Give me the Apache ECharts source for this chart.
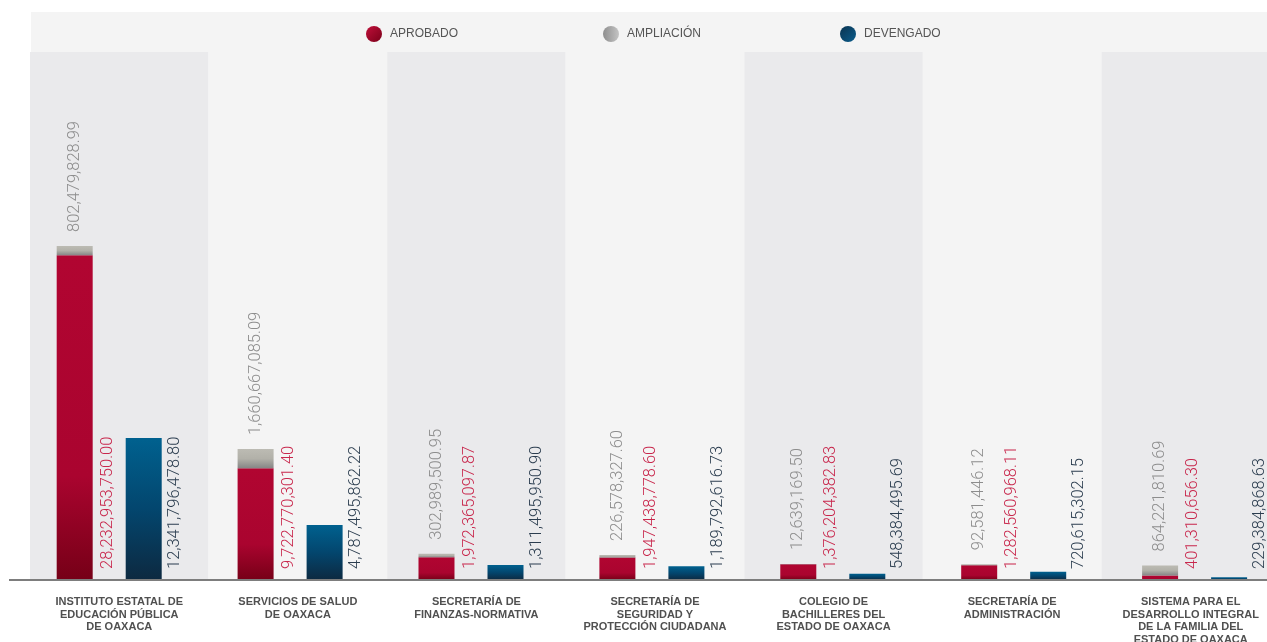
<!DOCTYPE html>
<html>
<head>
<meta charset="utf-8">
<title>Presupuesto por dependencia</title>
<script src="https://cdn.jsdelivr.net/npm/echarts@6/dist/echarts.min.js"></script>
<style>
  html, body {margin: 0; padding: 0; background: #fff; overflow: hidden;}
  /* el grafico se corta por la derecha, como en el original */
  #chart {width: 1300px; height: 642px;}
</style>
</head>
<body>
<div id="chart"></div>
<script>
(function(){
  'use strict';

  /*
    datos: dependencias y montos (pesos)
  */
  var dependencias = [
    'INSTITUTO ESTATAL DE\nEDUCACIÓN PÚBLICA\nDE OAXACA',
    'SERVICIOS DE SALUD\nDE OAXACA',
    'SECRETARÍA DE\nFINANZAS-NORMATIVA',
    'SECRETARÍA DE\nSEGURIDAD Y\nPROTECCIÓN CIUDADANA',
    'COLEGIO DE\nBACHILLERES DEL\nESTADO DE OAXACA',
    'SECRETARÍA DE\nADMINISTRACIÓN',
    'SISTEMA PARA EL\nDESARROLLO INTEGRAL\nDE LA FAMILIA DEL\nESTADO DE OAXACA'
  ];
  var aprobado   = [28232953750.00, 9722770301.40, 1972365097.87, 1947438778.60, 1376204382.83, 1282560968.11, 401310656.30];
  var ampliacion = [802479828.99, 1660667085.09, 302989500.95, 226578327.60, 12639169.50, 92581446.12, 864221810.69];
  var devengado  = [12341796478.80, 4787495862.22, 1311495950.90, 1189792616.73, 548384495.69, 720615302.15, 229384868.63];
  var leyenda    = ['APROBADO', 'AMPLIACIÓN', 'DEVENGADO'];

  var yMax = 45.9e9;

  /*
    helpers
  */
  var fmt = function(v){
    return v.toLocaleString('en-US', {minimumFractionDigits: 2, maximumFractionDigits: 2});
  };
  var grad = function(stops, x2, y2){
    return new echarts.graphic.LinearGradient(0, 0, x2 == null ? 0 : x2, y2 == null ? 1 : y2, stops.map(function(s){
      return {offset: s[0], color: s[1]};
    }));
  };
  // etiqueta vertical a la derecha de la barra, desde la base
  var sideLabel = function(color, dx){
    return {
      show: true,
      position: [dx, '100%'],
      rotate: 90,
      align: 'left',
      verticalAlign: 'middle',
      padding: [0, 0, 0, 11],
      color: color,
      fontFamily: 'Roboto',
      fontWeight: 300,
      fontSize: 16.5,
      formatter: function(p){ return fmt(p.value); }
    };
  };

  var rojo = grad([[0, '#b10531'], [0.68, '#aa042f'], [1, '#760017']]),
      gris = grad([[0, '#bcbbb3'], [0.5, '#b2b1a9'], [1, '#868686']]),
      azul = grad([[0, '#00618f'], [0.5, '#03466e'], [1, '#0d2940']]);

  // una leyenda por serie, a paso fijo de 237px
  var iconos = [
    grad([[0, '#c0103a'], [1, '#7a0019']], 1, 1),
    grad([[0, '#8e8e8e'], [1, '#c4c4c4']], 1, 0),
    grad([[0, '#0a3350'], [1, '#0b5d8c']], 1, 1)
  ];
  var legends = leyenda.map(function(name, i){
    return {
      left: 361 + i * 237,
      top: 21,
      itemWidth: 16,
      itemHeight: 16,
      icon: 'circle',
      textStyle: {
        color: '#555',
        fontFamily: 'Liberation Sans',
        fontSize: 12,
        padding: [0, 0, 0, 3]
      },
      data: [{name: name, itemStyle: {color: iconos[i]}}]
    };
  });

  var option = {
    animation: false,
    backgroundColor: '#fff',
    graphic: [
      // franja de la leyenda
      {type: 'rect', left: 31, top: 12, z: -10, shape: {width: 1269, height: 40}, style: {fill: '#f4f4f4'}},
      // linea base
      {type: 'line', z: 100, shape: {x1: 9, y1: 580, x2: 1300, y2: 580}, style: {stroke: '#7d7d7d', lineWidth: 2}}
    ],
    legend: legends,
    grid: [
      // bandas y etiquetas
      {left: 30, width: 1250, top: 52, bottom: 62, outerBoundsMode: 'none'},
      // barras (paso un poco distinto al de las bandas)
      {left: 18.75, width: 1266.3, top: 52, bottom: 62, outerBoundsMode: 'none'}
    ],
    xAxis: [{
      type: 'category',
      gridIndex: 0,
      data: dependencias,
      axisLine: {show: false},
      axisTick: {show: false},
      splitArea: {show: true, areaStyle: {color: ['#eaeaec', '#f4f4f4']}},
      axisLabel: {
        interval: 0,
        margin: 16,
        color: '#505050',
        fontFamily: 'Liberation Sans',
        fontWeight: 'bold',
        fontSize: 11,
        lineHeight: 12.5,
        align: 'center'
      }
    }, {
      type: 'category',
      gridIndex: 1,
      data: dependencias,
      show: false
    }],
    yAxis: [
      {type: 'value', gridIndex: 0, min: 0, max: yMax, show: false},
      {type: 'value', gridIndex: 1, min: 0, max: yMax, show: false}
    ],
    series: [{
      name: 'APROBADO',
      type: 'bar',
      xAxisIndex: 1, yAxisIndex: 1,
      stack: 'pres',
      barWidth: 36,
      barGap: '91.7%',
      itemStyle: {color: rojo},
      label: sideLabel('#c8274c', 51),
      data: aprobado
    }, {
      name: 'AMPLIACIÓN',
      type: 'bar',
      xAxisIndex: 1, yAxisIndex: 1,
      stack: 'pres',
      barWidth: 36,
      itemStyle: {color: gris},
      label: {
        show: true,
        position: 'top',
        distance: 14,
        rotate: 90,
        align: 'left',
        verticalAlign: 'middle',
        color: '#8d8d8d',
        fontFamily: 'Roboto',
        fontWeight: 300,
        fontSize: 16.5,
        formatter: function(p){ return fmt(p.value); }
      },
      data: ampliacion
    }, {
      name: 'DEVENGADO',
      type: 'bar',
      xAxisIndex: 1, yAxisIndex: 1,
      barWidth: 36,
      barGap: '91.7%',
      itemStyle: {color: azul},
      label: sideLabel('#2b3d4f', 49),
      data: devengado
    }]
  };

  echarts.init(document.getElementById('chart')).setOption(option);
})();
</script>
</body>
</html>
